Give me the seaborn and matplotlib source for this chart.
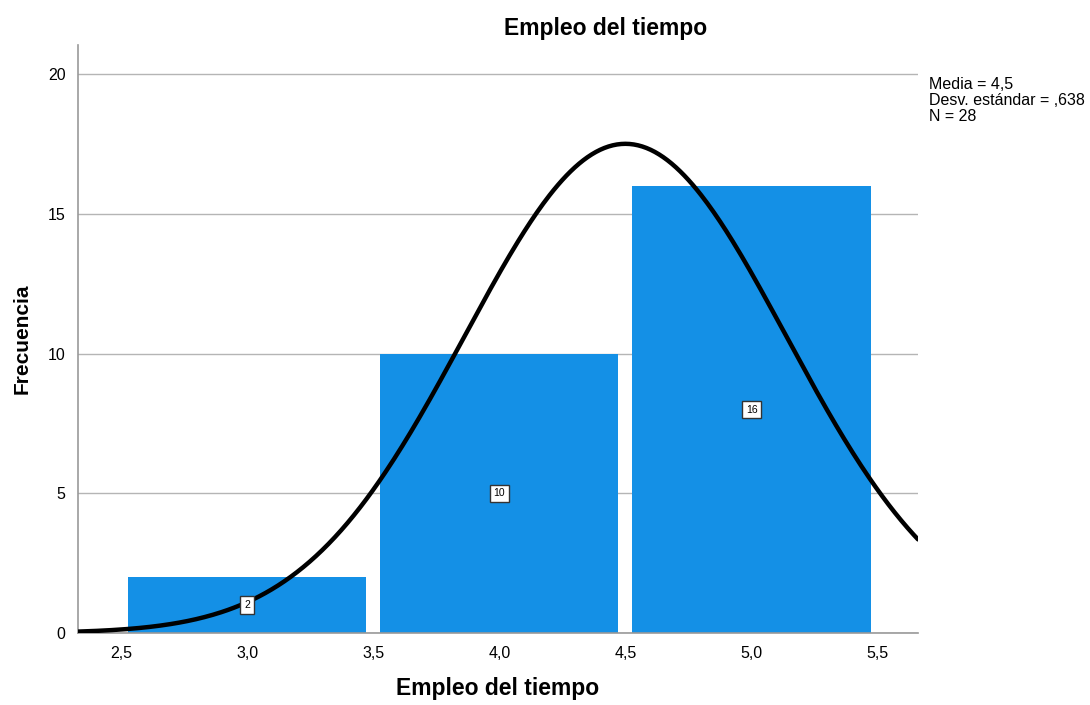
import numpy as np
import pandas as pd
import matplotlib
matplotlib.use("Agg")
import matplotlib.pyplot as plt
import seaborn as sns

# histogram data
centers = [3.0, 4.0, 5.0]
counts = [2, 10, 16]
mean = 4.5
sd = 0.638
n = 28
xticks = [2.5, 3.0, 3.5, 4.0, 4.5, 5.0, 5.5]
yticks = [0, 5, 10, 15, 20]

sns.set_style("white")
plt.rcParams['font.family'] = ['Liberation Sans', 'DejaVu Sans']
plt.rcParams['text.color'] = 'black'
plt.rcParams['axes.labelcolor'] = 'black'

fig = plt.figure(figsize=(10.9, 7.05), dpi=100)
ax = fig.add_axes([0.0716, 0.102, 0.7706, 0.834])

df = pd.DataFrame({'x': centers, 'y': counts})
sns.barplot(data=df, x='x', y='y', native_scale=True, width=0.945,
            color='#1490E6', saturation=1, linewidth=0, ax=ax, zorder=2)

# normal curve scaled to counts (bin width 1)
xs = np.linspace(2.33, 5.66, 400)
ys = n / (sd * np.sqrt(2 * np.pi)) * np.exp(-0.5 * ((xs - mean) / sd) ** 2)
sns.lineplot(x=xs, y=ys, color='black', linewidth=3.2, ax=ax, zorder=4)

for c, v in zip(centers, counts):
    ax.text(c, v / 2, str(v), ha='center', va='center', fontsize=7.5, zorder=5,
            bbox=dict(boxstyle='square,pad=0.35', fc='white', ec='#333333', lw=1))

ax.set_xlim(2.33, 5.66)
ax.set_ylim(0, 21.04)
ax.set_xticks(xticks)
ax.set_xticklabels([f"{t:.1f}".replace('.', ',') for t in xticks], fontsize=11.5)
ax.set_yticks(yticks)
ax.set_yticklabels([str(t) for t in yticks], fontsize=11.5)
ax.yaxis.grid(True, color='#b5b5b5', linewidth=1, zorder=0)
ax.set_axisbelow(True)
ax.tick_params(axis='x', length=4, color='#999999', pad=5, labelcolor='black')
ax.tick_params(axis='y', length=0, pad=9, labelcolor='black')
for s in ['top', 'right']:
    ax.spines[s].set_visible(False)
for s in ['left', 'bottom']:
    ax.spines[s].set_color('#999999')
    ax.spines[s].set_linewidth(1.2)

ax.set_xlabel("Empleo del tiempo", fontsize=16.5, fontweight='bold', labelpad=12)
ax.set_ylabel("Frecuencia", fontsize=15, fontweight='bold', labelpad=12)
fig.text(0.556, 0.960, "Empleo del tiempo", ha='center', va='center',
         fontsize=16.5, fontweight='bold')
fig.text(0.852, 0.891, "Media = 4,5\nDesv. estándar = ,638\nN = 28",
         ha='left', va='top', fontsize=11.5, linespacing=1.1)

fig.savefig('out.png', dpi=100)
